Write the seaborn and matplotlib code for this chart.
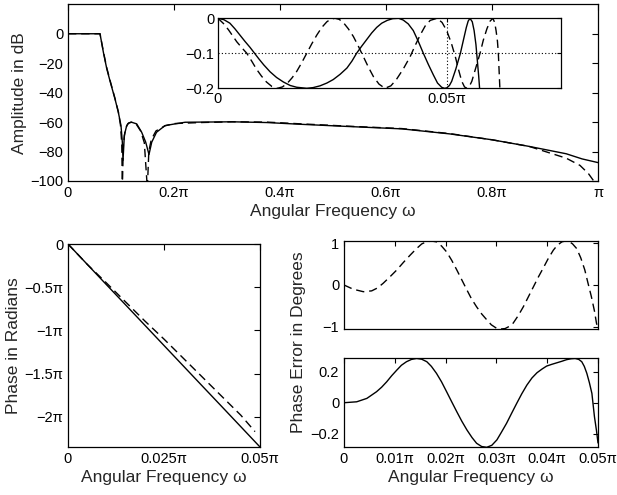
import matplotlib
matplotlib.use("Agg")
import matplotlib.pyplot as plt
import seaborn as sns

# ---------------- data (x values in units of pi) ----------------
# Main amplitude response (dB)
amp_solid_w = [0, 0.02, 0.04, 0.0604, 0.0667, 0.073, 0.0792, 0.0887, 0.095,
               0.1, 0.1025, 0.1038, 0.1063, 0.1107, 0.115, 0.120, 0.1296,
               0.139, 0.1466, 0.1528, 0.158, 0.167, 0.183, 0.202, 0.221, 0.25,
               0.31, 0.375, 0.44, 0.53, 0.63, 0.72, 0.80, 0.87, 0.94, 0.97, 1.0]
amp_solid_db = [0, 0, 0, 0, -12.5, -23.5, -32, -44.3, -53.4,
                -62.4, -73.6, -86, -69, -62.4, -60.5, -60.1, -61.2,
                -66.9, -73.6, -82, -73.6, -66.9, -62.4, -61.2, -60.1, -60,
                -59.8, -60.3, -61.5, -63, -64.6, -68, -72, -76.5, -81.5, -85,
                -87.5]
amp_dash_w = [0, 0.02, 0.04, 0.0604, 0.0667, 0.073, 0.0792, 0.0887, 0.095,
              0.099, 0.1015, 0.1025, 0.1045, 0.108, 0.113, 0.119, 0.128, 0.137,
              0.144, 0.1497, 0.1525, 0.157, 0.166, 0.183, 0.2, 0.25, 0.31,
              0.375, 0.44, 0.53, 0.63, 0.72, 0.80, 0.87, 0.94, 0.966, 0.982,
              0.991, 1.0]
amp_dash_db = [0, 0, 0, 0, -12, -23, -31.5, -44, -53,
               -62, -75, -105, -75, -65, -61, -60, -61, -66,
               -74, -105, -80, -72, -66, -62.5, -61, -60.3, -59.8,
               -60, -61.2, -62.8, -64.4, -67.8, -72, -76.5, -84.5, -89.4, -95,
               -99.5, -105]

# Inset: passband detail (x in units of 0.01*pi, dB)
ins_solid_w = [0, 0.13, 0.26, 0.37, 0.48, 0.59, 0.70, 0.80, 0.90, 1.0, 1.14,
               1.28, 1.43, 1.58, 1.72, 1.94, 2.08, 2.23, 2.38, 2.52, 2.67, 2.82,
               2.93, 3.03, 3.14, 3.25, 3.36, 3.47, 3.58, 3.70, 3.82, 3.95,
               4.05, 4.16, 4.27, 4.38, 4.49, 4.60, 4.71, 4.80, 4.89, 4.95, 5.0,
               5.06, 5.11, 5.20, 5.30, 5.37, 5.43, 5.47, 5.51, 5.56, 5.60, 5.64,
               5.67, 5.70, 5.72, 5.76]
ins_solid_db = [0, -0.004, -0.014, -0.03, -0.048, -0.066, -0.083, -0.10,
                -0.117, -0.133, -0.153, -0.169, -0.182, -0.192, -0.197, -0.2,
                -0.198, -0.193, -0.185, -0.175, -0.16, -0.142, -0.122, -0.10,
                -0.08, -0.061, -0.042, -0.026, -0.014, -0.006, -0.001, 0,
                -0.005, -0.016, -0.035, -0.066, -0.1, -0.132, -0.162, -0.185,
                -0.197, -0.2, -0.199, -0.192, -0.18, -0.145, -0.1, -0.06,
                -0.026, -0.008, 0, -0.01, -0.035, -0.075, -0.12, -0.165, -0.2,
                -0.3]
ins_dash_w = [0, 0.12, 0.23, 0.32, 0.41, 0.52, 0.63, 0.74, 0.84, 0.95, 1.06,
              1.18, 1.30, 1.41, 1.52, 1.62, 1.72, 1.83, 1.94, 2.05, 2.16, 2.27,
              2.38, 2.47, 2.56, 2.65, 2.74, 2.85, 2.96, 3.07, 3.18, 3.29, 3.40,
              3.52, 3.65, 3.78, 3.90, 4.05, 4.20, 4.31, 4.42, 4.53, 4.64, 4.79,
              4.90, 5.0, 5.10, 5.19, 5.26, 5.33, 5.39, 5.44, 5.49, 5.55, 5.64,
              5.73, 5.80, 5.88, 5.95, 6.01, 6.05, 6.08, 6.11, 6.13, 6.15, 6.17,
              6.19]
ins_dash_db = [0, -0.015, -0.033, -0.05, -0.067, -0.084, -0.10, -0.123, -0.145,
               -0.165, -0.182, -0.195, -0.2, -0.196, -0.185, -0.17, -0.152,
               -0.127, -0.10, -0.073, -0.048, -0.026, -0.01, -0.002, 0, -0.003,
               -0.012, -0.03, -0.052, -0.08, -0.11, -0.14, -0.167, -0.188,
               -0.2, -0.193, -0.175, -0.145, -0.11, -0.078, -0.048, -0.022,
               -0.006, 0, -0.012, -0.035, -0.07, -0.11, -0.147, -0.18, -0.196,
               -0.2, -0.196, -0.18, -0.14, -0.1, -0.063, -0.03, -0.008, 0,
               -0.012, -0.035, -0.065, -0.1, -0.16, -0.22, -0.3]

# Phase (x in units of 0.01*pi, phase in units of pi)
ph_w = [0, 0.5, 1.0, 1.5, 2.0, 2.5, 3.0, 3.5, 4.0, 4.5, 5.0]
ph_solid = [0, -0.235, -0.47, -0.704, -0.939, -1.174, -1.409, -1.644, -1.878,
            -2.113, -2.348]
ph_dash_w = [0, 0.5, 1.0, 1.5, 2.0, 2.5, 3.0, 3.5, 4.0, 4.5, 4.87]
ph_dash = [0, -0.235, -0.45, -0.67, -0.89, -1.10, -1.32, -1.54, -1.76, -1.98,
           -2.17]

# Phase error in degrees (x in units of 0.01*pi)
err_dash_w = [0, 0.18, 0.38, 0.545, 0.66, 0.77, 0.9, 1.04, 1.17, 1.30, 1.42,
              1.53, 1.62, 1.72, 1.82, 1.92, 2.02, 2.12, 2.22, 2.32, 2.42, 2.51,
              2.61, 2.71, 2.81, 2.90, 3.0, 3.08, 3.17, 3.25, 3.33, 3.43, 3.53,
              3.63, 3.73, 3.83, 3.92, 4.02, 4.12, 4.20, 4.29, 4.36, 4.42, 4.50,
              4.58, 4.66, 4.74, 4.80, 4.87, 4.93, 4.97, 5.0]
err_dash = [0, -0.10, -0.16, -0.14, -0.07, 0.04, 0.19, 0.36, 0.54, 0.71, 0.86,
            0.98, 1.03, 1.05, 1.03, 0.93, 0.79, 0.59, 0.36, 0.12, -0.12, -0.33,
            -0.52, -0.69, -0.83, -0.95, -1.03, -1.05, -1.04, -0.99, -0.91,
            -0.73, -0.52, -0.28, -0.04, 0.2, 0.40, 0.63, 0.83, 0.95, 1.03,
            1.05, 1.05, 0.98, 0.87, 0.65, 0.36, 0.06, -0.28, -0.62, -0.91,
            -1.05]
err_solid_w = [0, 0.25, 0.45, 0.64, 0.74, 0.84, 0.94, 1.04, 1.13, 1.23, 1.33,
               1.43, 1.53, 1.63, 1.72, 1.82, 1.92, 2.02, 2.12, 2.22, 2.32,
               2.42, 2.52, 2.61, 2.71, 2.81, 2.91, 3.01, 3.10, 3.20, 3.30,
               3.40, 3.50, 3.60, 3.70, 3.80, 3.90, 3.99, 4.09, 4.19, 4.29,
               4.38, 4.47, 4.55, 4.62, 4.68, 4.73, 4.78, 4.83, 4.88, 4.93,
               4.97, 5.0]
err_solid = [0, 0.006, 0.028, 0.071, 0.10, 0.135, 0.175, 0.211, 0.242, 0.265,
             0.280, 0.286, 0.281, 0.265, 0.235, 0.19, 0.135, 0.071, 0.006,
             -0.058, -0.12, -0.176, -0.225, -0.262, -0.283, -0.288, -0.275,
             -0.24, -0.19, -0.133, -0.068, -0.004, 0.058, 0.114, 0.16, 0.194,
             0.218, 0.237, 0.248, 0.258, 0.268, 0.278, 0.284, 0.286, 0.28,
             0.265, 0.235, 0.19, 0.13, 0.06, -0.09, -0.18, -0.26]

# tick labels
amp_xticks = [0, 0.2, 0.4, 0.6, 0.8, 1.0]
amp_xlabels = ["0", "0.2π", "0.4π", "0.6π", "0.8π", "π"]
amp_yticks = [0, -20, -40, -60, -80, -100]
ins_xticks = [0, 5]
ins_xlabels = ["0", "0.05π"]
ins_yticks = [0, -0.1, -0.2]
ph_xticks = [0, 2.5, 5]
ph_xlabels = ["0", "0.025π", "0.05π"]
ph_yticks = [0, -0.5, -1, -1.5, -2]
ph_ylabels = ["0", "−0.5π", "−1π", "−1.5π", "−2π"]
err_xticks = [0, 1, 2, 3, 4, 5]
err_xlabels = ["0", "0.01π", "0.02π", "0.03π", "0.04π", "0.05π"]

# ---------------- styling ----------------
sns.set_style("white")
plt.rcParams["font.family"] = ["Liberation Sans", "DejaVu Sans"]
plt.rcParams["axes.unicode_minus"] = True

DASH = (0, (6, 3.5))
LW = 1.0
TICK_FS = 10.5
LABEL_FS = 12.5


def style(ax, length=4, pad=3.5):
    for s in ax.spines.values():
        s.set_visible(True)
        s.set_color("black")
        s.set_linewidth(0.9)
    ax.tick_params(direction="in", top=True, right=True, length=length,
                   width=0.8, labelsize=TICK_FS, pad=pad, colors="black")
    ax.grid(False)


fig = plt.figure(figsize=(6.17, 4.95), dpi=100)
W, H = 617.0, 495.0


def rect(l, t, r, b):
    return [l / W, 1 - b / H, (r - l) / W, (b - t) / H]


# ---- main amplitude axes ----
ax = fig.add_axes(rect(68, 4.3, 598, 181))
sns.lineplot(x=amp_solid_w, y=amp_solid_db, ax=ax, color="k", lw=LW,
             estimator=None, sort=False)
sns.lineplot(x=amp_dash_w, y=amp_dash_db, ax=ax, color="k", lw=LW,
             estimator=None, sort=False, linestyle=DASH)
ax.set_xlim(0, 1)
ax.set_ylim(-100, 20)
ax.set_xticks(amp_xticks)
ax.set_xticklabels(amp_xlabels)
ax.set_yticks(amp_yticks)
ax.set_yticklabels([str(v).replace("-", "−") for v in amp_yticks])
ax.set_xlabel("Angular Frequency ω", fontsize=LABEL_FS, labelpad=3)
ax.set_ylabel("Amplitude in dB", fontsize=LABEL_FS, labelpad=2)
style(ax)

# ---- inset ----
axi = fig.add_axes(rect(218, 18.3, 561, 88.3))
axi.set_facecolor("white")
sns.lineplot(x=ins_solid_w, y=ins_solid_db, ax=axi, color="k", lw=LW,
             estimator=None, sort=False)
sns.lineplot(x=ins_dash_w, y=ins_dash_db, ax=axi, color="k", lw=LW,
             estimator=None, sort=False, linestyle=DASH)
axi.axhline(-0.1, color="k", lw=0.8, linestyle=(0, (1, 2)))
axi.axvline(5, color="k", lw=0.8, linestyle=(0, (1, 2)))
axi.set_xlim(0, 7.5)
axi.set_ylim(-0.2, 0)
axi.set_xticks(ins_xticks)
axi.set_xticklabels(ins_xlabels)
axi.set_yticks(ins_yticks)
axi.set_yticklabels(["0", "−0.1", "−0.2"])
style(axi, length=3, pad=2.5)

# ---- phase ----
axp = fig.add_axes(rect(68, 244, 260, 447))
sns.lineplot(x=ph_w, y=ph_solid, ax=axp, color="k", lw=LW,
             estimator=None, sort=False)
sns.lineplot(x=ph_dash_w, y=ph_dash, ax=axp, color="k", lw=LW,
             estimator=None, sort=False, linestyle=DASH)
axp.set_xlim(0, 5)
axp.set_ylim(-2.348, 0)
axp.set_xticks(ph_xticks)
axp.set_xticklabels(ph_xlabels)
axp.set_yticks(ph_yticks)
axp.set_yticklabels(ph_ylabels)
axp.set_xlabel("Angular Frequency ω", fontsize=LABEL_FS, labelpad=3)
axp.set_ylabel("Phase in Radians", fontsize=LABEL_FS, labelpad=2)
style(axp)

# ---- phase error (dashed) ----
axe1 = fig.add_axes(rect(344, 241, 598, 329))
sns.lineplot(x=err_dash_w, y=err_dash, ax=axe1, color="k", lw=LW,
             estimator=None, sort=False, linestyle=DASH)
axe1.set_xlim(0, 5)
axe1.set_ylim(-1.05, 1.05)
axe1.set_xticks(err_xticks)
axe1.set_xticklabels([])
axe1.set_yticks([-1, 0, 1])
axe1.set_yticklabels(["−1", "0", "1"])
style(axe1, length=3.5)

# ---- phase error (solid) ----
axe2 = fig.add_axes(rect(344, 358.3, 598, 447.3))
sns.lineplot(x=err_solid_w, y=err_solid, ax=axe2, color="k", lw=LW,
             estimator=None, sort=False)
axe2.set_xlim(0, 5)
axe2.set_ylim(-0.288, 0.287)
axe2.set_xticks(err_xticks)
axe2.set_xticklabels(err_xlabels)
axe2.set_yticks([-0.2, 0, 0.2])
axe2.set_yticklabels(["−0.2", "0", "0.2"])
axe2.set_xlabel("Angular Frequency ω", fontsize=LABEL_FS, labelpad=3)
style(axe2, length=3.5)

fig.text(298 / W, 1 - 342 / H, "Phase Error in Degrees", rotation=90,
         ha="center", va="center", fontsize=LABEL_FS)

fig.savefig("out.png", dpi=100, facecolor="white")
